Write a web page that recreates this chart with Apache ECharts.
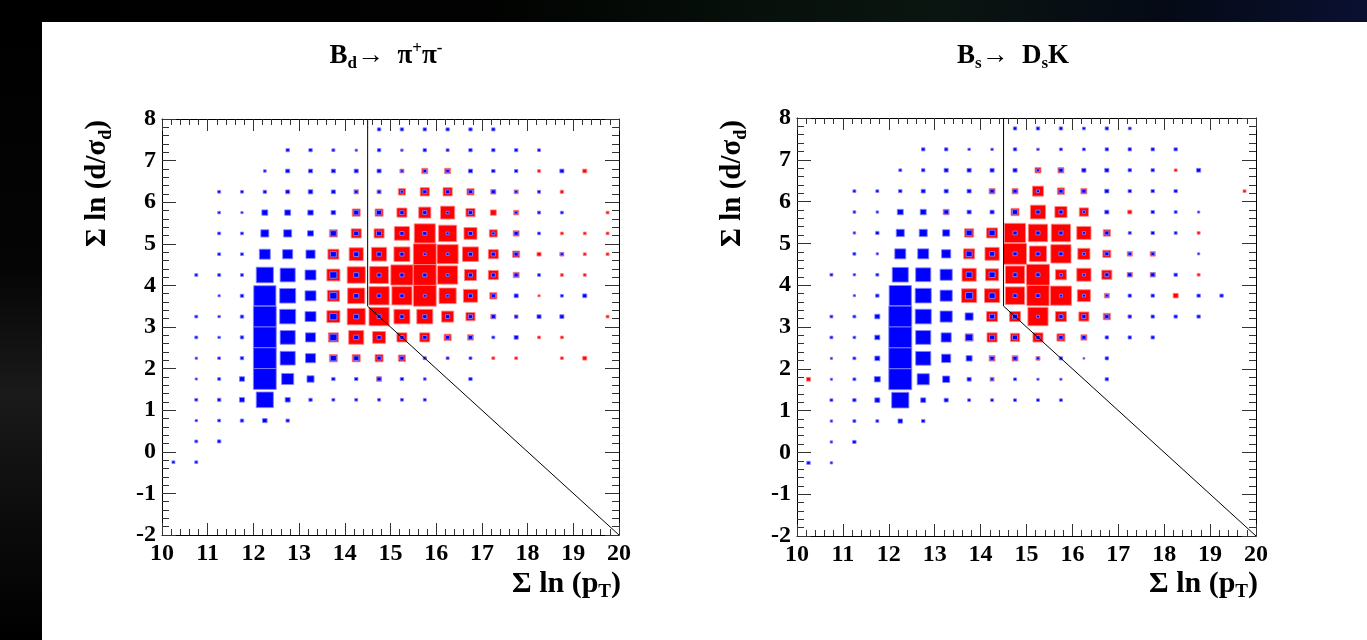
<!DOCTYPE html>
<html>
<head>
<meta charset="utf-8">
<script src="https://cdn.jsdelivr.net/npm/echarts@6/dist/echarts.min.js"></script>
<style>
  html, body { margin: 0; padding: 0; width: 1367px; height: 640px; overflow: hidden; }
  body {
    background: linear-gradient(90deg, #000 0%, #010201 35%, #07100a 55%, #0b1510 68%, #050a16 85%, #0a1030 100%);
  }
  #leftStrip {
    position: absolute; left: 0; top: 22px; width: 42px; height: 618px;
    background: linear-gradient(180deg, #000 0%, #050505 40%, #1a1a1a 60%, #0c0c0c 80%, #000 100%);
  }
  #panel { position: absolute; left: 42px; top: 22px; width: 1325px; height: 618px; background: #fff; }
  #chart { position: absolute; left: 0; top: 0; width: 1367px; height: 640px; }
</style>
</head>
<body>
<div id="leftStrip"></div>
<div id="panel"></div>
<div id="chart"></div>
<script>
// bin centres (bin width 0.5 in both directions)
const xCenters = [10.25, 10.75, 11.25, 11.75, 12.25, 12.75, 13.25, 13.75, 14.25, 14.75,
                  15.25, 15.75, 16.25, 16.75, 17.25, 17.75, 18.25, 18.75, 19.25, 19.75];
const yCenters = [7.75, 7.25, 6.75, 6.25, 5.75, 5.25, 4.75, 4.25, 3.75, 3.25,
                  2.75, 2.25, 1.75, 1.25, 0.75, 0.25, -0.25];

const xTicks = [10, 11, 12, 13, 14, 15, 16, 17, 18, 19, 20];
const yTicks = [-2, -1, 0, 1, 2, 3, 4, 5, 6, 7, 8];

// cut line drawn over both plots
const cutLine = [[14.5, 8], [14.5, 3.5], [20, -2]];

// relative bin contents (max = 100), rows top to bottom, columns left to right
// B_d -> pi+ pi- : background (blue)
const bdBlue = [
  [0,0,0,0,0,0,0,0,0,15,15,15,15,15,15,0,0,0,0,0],
  [0,0,0,0,0,15,15,13,10,15,10,15,13,15,15,15,13,0,0,0],
  [0,0,0,0,12,18,18,18,18,18,12,15,15,18,15,15,0,18,0,0],
  [0,0,13,13,15,18,20,18,15,15,13,18,18,18,18,13,13,0,0,0],
  [0,0,12,10,26,26,24,20,22,22,18,18,13,18,0,13,13,13,0,0],
  [0,0,13,13,35,35,26,26,22,22,18,18,13,18,13,18,13,0,0,0],
  [0,0,13,13,48,44,40,26,22,20,18,13,13,18,18,18,0,13,0,0],
  [0,13,13,13,75,66,48,31,22,18,18,18,13,18,18,18,13,0,0,0],
  [0,0,10,15,97,70,48,31,22,18,18,13,13,18,18,18,0,13,18,0],
  [0,13,11,15,100,70,48,31,22,18,18,18,18,18,18,15,18,18,0,0],
  [0,13,11,15,100,66,44,31,22,18,18,18,18,18,13,18,0,0,0,0],
  [0,10,12,15,100,66,44,26,22,18,18,13,13,13,0,0,0,0,0,0],
  [0,10,13,22,100,53,31,15,15,18,15,12,0,15,0,0,0,0,0,0],
  [0,13,15,22,75,22,15,13,13,13,13,13,0,0,0,0,0,0,0,0],
  [0,11,13,15,20,15,0,0,0,0,0,0,0,0,0,0,0,0,0,0],
  [0,13,15,0,0,0,0,0,0,0,0,0,0,0,0,0,0,0,0,0],
  [13,13,0,0,0,0,0,0,0,0,0,0,0,0,0,0,0,0,0,0]
];
// B_d -> pi+ pi- : signal (red)
const bdRed = [
  [0,0,0,0,0,0,0,0,0,0,0,0,0,0,0,0,0,0,0,0],
  [0,0,0,0,0,0,0,10,8,0,10,0,10,0,0,0,10,0,0,0],
  [0,0,0,0,0,0,0,0,0,0,18,26,26,0,13,0,13,0,18,0],
  [0,0,0,0,0,0,0,0,20,18,31,40,40,31,22,18,13,15,0,0],
  [0,0,0,0,0,0,0,0,35,35,44,53,62,40,26,22,13,0,0,13],
  [0,0,0,0,0,0,0,35,44,44,66,92,79,57,35,26,0,13,13,13],
  [0,0,0,0,0,0,0,48,62,66,70,100,92,70,44,31,18,18,13,13],
  [0,0,0,0,0,0,0,57,79,82,97,100,88,53,44,26,0,13,13,0],
  [0,0,0,0,0,0,0,53,75,88,88,100,75,62,31,0,10,0,0,0],
  [0,0,0,0,0,0,0,57,79,88,70,70,53,40,22,15,0,0,0,13],
  [0,0,0,0,0,0,0,44,66,57,44,44,31,26,0,0,13,13,0,0],
  [0,8,8,0,0,0,0,35,35,35,31,13,0,0,13,13,0,13,18,0],
  [0,0,0,0,0,0,0,0,0,22,0,0,0,0,0,0,0,0,0,0],
  [0,0,0,0,0,0,0,0,0,0,0,0,0,0,0,0,0,0,0,0],
  [0,0,0,0,0,0,0,0,0,0,0,0,0,0,0,0,0,0,0,0],
  [0,0,0,0,0,0,0,0,0,0,0,0,0,0,0,0,0,0,0,0],
  [0,0,0,0,0,0,0,0,0,0,0,0,0,0,0,0,0,0,0,0]
];
// B_s -> D_s K : background (blue)
const bsBlue = [
  [0,0,0,0,0,0,0,0,0,15,15,15,13,15,13,0,0,0,0,0],
  [0,0,0,0,0,15,15,11,11,15,10,13,13,15,15,15,15,0,0,0],
  [0,0,0,0,13,15,18,18,18,18,13,18,18,18,15,15,0,18,0,0],
  [0,0,13,13,15,18,18,18,18,18,13,18,18,18,15,15,15,0,0,0],
  [0,0,12,11,26,26,20,18,18,22,18,18,13,18,0,15,13,10,0,0],
  [0,0,11,15,35,35,31,26,26,18,18,18,13,18,13,15,13,0,0,0],
  [0,0,13,10,48,48,40,26,22,18,18,18,13,18,15,15,0,10,0,0],
  [0,13,11,13,70,66,53,26,26,18,18,13,13,18,18,18,15,0,0,0],
  [0,0,10,15,97,70,53,31,26,18,18,13,13,13,15,15,0,15,15,0],
  [0,13,13,22,100,70,53,35,22,22,13,18,18,18,15,15,15,15,0,0],
  [0,13,12,22,100,66,44,31,22,22,18,18,18,15,15,15,0,0,0,0],
  [0,10,13,22,100,66,40,26,18,18,13,15,8,15,0,0,0,0,0,0],
  [0,10,13,26,100,53,31,18,13,13,10,10,0,15,0,0,0,0,0,0],
  [0,13,15,22,75,22,18,13,13,13,13,13,0,0,0,0,0,0,0,0],
  [0,11,13,13,20,15,0,0,0,0,0,0,0,0,0,0,0,0,0,0],
  [0,11,15,0,0,0,0,0,0,0,0,0,0,0,0,0,0,0,0,0],
  [15,11,0,0,0,0,0,0,0,0,0,0,0,0,0,0,0,0,0,0]
];
// B_s -> D_s K : signal (red)
const bsRed = [
  [0,0,0,0,0,0,0,0,0,0,0,0,0,0,0,0,0,0,0,0],
  [0,0,0,0,0,0,0,0,0,0,10,0,0,0,10,0,0,0,0,0],
  [0,0,0,0,0,0,0,0,0,10,26,26,15,0,0,0,13,0,0,0],
  [0,0,0,0,0,0,0,0,26,26,48,31,26,13,0,0,0,0,0,13],
  [0,0,0,0,0,0,26,0,0,35,66,53,40,0,18,0,0,0,0,0],
  [0,0,0,0,0,0,0,40,48,92,84,84,62,31,0,10,0,13,0,0],
  [0,0,0,8,0,0,0,48,62,100,75,88,53,35,22,22,0,0,0,0],
  [0,0,0,0,0,0,0,62,57,84,100,48,62,44,22,22,0,13,0,0],
  [0,0,0,0,0,0,0,66,66,84,97,92,57,22,0,0,22,0,0,0],
  [0,0,0,0,0,0,0,0,48,48,88,48,44,31,13,0,0,0,0,0],
  [0,0,0,0,0,0,0,35,44,40,44,35,26,0,0,10,0,0,0,0],
  [0,0,0,0,0,0,0,0,26,26,18,0,0,10,0,0,0,0,0,0],
  [18,0,0,0,0,0,0,0,18,0,0,0,0,0,0,0,0,0,0,0],
  [0,0,0,0,0,0,0,0,0,0,0,0,0,0,0,0,0,0,0,0],
  [0,0,0,0,0,0,0,0,0,0,0,0,0,0,0,0,0,0,0,0],
  [0,0,0,0,0,0,0,0,0,0,0,0,0,0,0,0,0,0,0,0],
  [0,0,0,0,0,0,0,0,0,0,0,0,0,0,0,0,0,0,0,0]
];

const FONT = "'Liberation Serif', 'DejaVu Serif', serif";

function toCells(grid) {
  const cells = [];
  grid.forEach((row, r) => {
    row.forEach((v, c) => {
      if (v > 0) cells.push([xCenters[c], yCenters[r], v]);
    });
  });
  return cells;
}

function boxSeries(g, grid, fill, edge, z) {
  return {
    type: 'custom',
    xAxisIndex: g * 2,
    yAxisIndex: g * 2,
    z: z,
    silent: true,
    data: toCells(grid),
    renderItem: function (params, api) {
      const c = api.coord([api.value(0), api.value(1)]);
      const s = api.size([0.5, 0.5]);
      const f = api.value(2) / 100;
      const w = s[0] * f, h = s[1] * f;
      return {
        type: 'rect',
        shape: { x: c[0] - w / 2, y: c[1] - h / 2, width: w, height: h },
        style: { fill: fill, stroke: edge, lineWidth: 1 }
      };
    }
  };
}

const tickColor = '#333';
const tickLabel = { fontFamily: FONT, fontWeight: 'bold', fontSize: 24, color: '#000' };
function xAxes(g) {
  const common = {
    type: 'value', gridIndex: g, min: xTicks[0], max: xTicks[xTicks.length - 1], interval: 1,
    axisLine: { show: true, onZero: false, lineStyle: { color: '#000', width: 1 } },
    axisTick: { show: true, inside: true, length: 12, lineStyle: { color: tickColor } },
    minorTick: { show: true, splitNumber: 5, length: 6, lineStyle: { color: tickColor } },
    splitLine: { show: false }
  };
  return [
    Object.assign({}, common, { position: 'bottom', axisLabel: Object.assign({ margin: 7 }, tickLabel) }),
    Object.assign({}, common, { position: 'top', axisLabel: { show: false } })
  ];
}
function yAxes(g) {
  const common = {
    type: 'value', gridIndex: g, min: yTicks[0], max: yTicks[yTicks.length - 1], interval: 1,
    axisLine: { show: true, onZero: false, lineStyle: { color: '#000', width: 1 } },
    axisTick: { show: true, inside: true, length: 14, lineStyle: { color: tickColor } },
    minorTick: { show: true, splitNumber: 5, length: 7, lineStyle: { color: tickColor } },
    splitLine: { show: false }
  };
  return [
    Object.assign({}, common, { position: 'left', axisLabel: Object.assign({ margin: 6 }, tickLabel) }),
    Object.assign({}, common, { position: 'right', axisLabel: { show: false } })
  ];
}

function makeRich(size) {
  const s = Math.round(size * 0.62);
  return {
    b: { fontFamily: FONT, fontWeight: 'bold', fontSize: size, color: '#000' },
    sub: { fontFamily: FONT, fontWeight: 'bold', fontSize: s, color: '#000', padding: [Math.round(size * 0.58), 0, 0, 0] },
    sup: { fontFamily: FONT, fontWeight: 'bold', fontSize: s, color: '#000', padding: [0, 0, Math.round(size * 0.5), 0] }
  };
}
function label(x, y, text, size, align, rotation) {
  return {
    type: 'text', x: x, y: y, rotation: rotation || 0, silent: true,
    style: { text: text, rich: makeRich(size), align: align, verticalAlign: 'middle' }
  };
}

const chart = echarts.init(document.getElementById('chart'), null, { renderer: 'canvas' });
chart.setOption({
  animation: false,
  backgroundColor: 'transparent',
  grid: [
    { left: 162, top: 119, width: 457, height: 416, outerBoundsMode: 'none' },
    { left: 797, top: 118, width: 459, height: 418, outerBoundsMode: 'none' }
  ],
  xAxis: xAxes(0).concat(xAxes(1)),
  yAxis: yAxes(0).concat(yAxes(1)),
  graphic: [
    label(386, 56, '{b|B}{sub|d}{b|→  π}{sup|+}{b|π}{sup|-}', 27, 'center'),
    label(1013, 56, '{b|B}{sub|s}{b|→  D}{sub|s}{b|K}', 27, 'center'),
    label(98, 120, '{b|Σ ln (d/σ}{sub|d}{b|)}', 29, 'right', Math.PI / 2),
    label(733, 120, '{b|Σ ln (d/σ}{sub|d}{b|)}', 29, 'right', Math.PI / 2),
    label(621, 584, '{b|Σ ln (p}{sub|T}{b|)}', 30, 'right'),
    label(1258, 584, '{b|Σ ln (p}{sub|T}{b|)}', 30, 'right')
  ],
  series: [
    boxSeries(0, bdRed, '#ff0000', 'rgba(255,130,130,0.85)', 2),
    boxSeries(0, bdBlue, '#0000ff', 'rgba(130,130,255,0.85)', 3),
    boxSeries(1, bsRed, '#ff0000', 'rgba(255,130,130,0.85)', 2),
    boxSeries(1, bsBlue, '#0000ff', 'rgba(130,130,255,0.85)', 3),
    { type: 'line', xAxisIndex: 0, yAxisIndex: 0, data: cutLine, symbol: 'none', z: 5, silent: true,
      lineStyle: { color: '#000', width: 1 } },
    { type: 'line', xAxisIndex: 2, yAxisIndex: 2, data: cutLine, symbol: 'none', z: 5, silent: true,
      lineStyle: { color: '#000', width: 1 } }
  ]
});
</script>
</body>
</html>
